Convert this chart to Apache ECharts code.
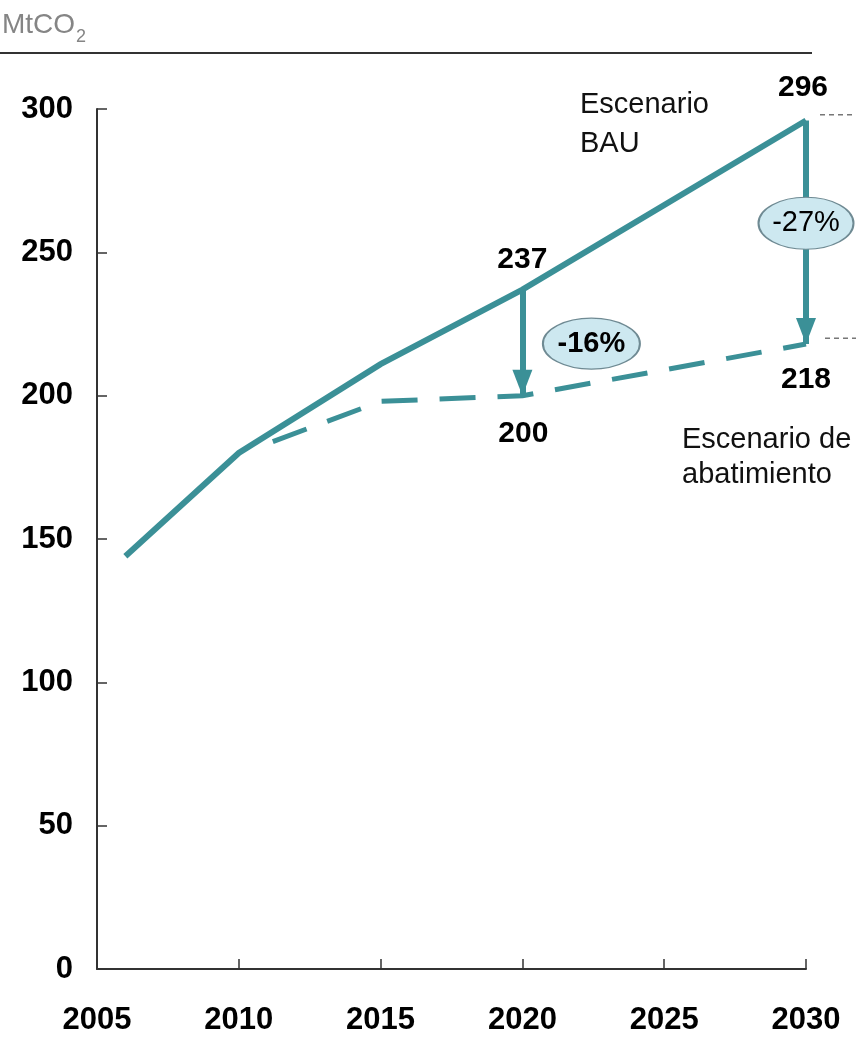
<!DOCTYPE html>
<html><head><meta charset="utf-8">
<script src="https://cdn.jsdelivr.net/npm/echarts@6/dist/echarts.min.js"></script>
<style>html,body{margin:0;padding:0;background:#fff}#c{width:856px;height:1038px}</style>
</head><body><div id="c"></div>
<script>
// ---- data ----
const xTicks = [2005, 2010, 2015, 2020, 2025, 2030];
const yTicks = [0, 50, 100, 150, 200, 250, 300];
const bauYears = [2006, 2010, 2015, 2020, 2030];
const bauValues = [144, 180, 211, 237, 296];
const abatYears = [2011.2, 2015, 2020, 2030];
const abatValues = [184, 198, 200, 218];
const reductionYears = [2020, 2030];
const reductionFrom = [237, 296];
const reductionTo = [200, 218];
const reductionLabels = ['-16%', '-27%'];
const guideLevels = [298, 220];
const scenarioNames = ['Escenario\nBAU', 'Escenario de\nabatimiento'];
const unitText = ['MtCO', '2'];

// ---- style ----
const TEAL = '#3b9097';
const FONT = '"Liberation Sans Narrow", "Arial Narrow", "Liberation Sans", Arial, sans-serif';
const ARROW = 'path://M10,0 L20,26 L0,26 Z';

const chart = echarts.init(document.getElementById('c'), null, {renderer: 'canvas'});
const pair = (xs, ys) => xs.map((x, i) => [x, ys[i]]);
const hidden = {color: 'rgba(0,0,0,0)'};
const numLabel = (txt, off) => ({show: true, formatter: txt, offset: off, fontFamily: FONT, fontWeight: 'bold', fontSize: 30, color: '#000'});

const baseGraphic = [
  {type: 'line', shape: {x1: 0, y1: 53, x2: 812, y2: 53}, style: {stroke: '#333', lineWidth: 2}},
  {type: 'text', left: 2, top: 11, style: {text: unitText[0], fontFamily: FONT, fontSize: 28, fill: '#858585'}},
  {type: 'text', left: 76, top: 28, style: {text: unitText[1], fontFamily: FONT, fontSize: 18, fill: '#858585'}}
];

const option = {
  animation: false,
  backgroundColor: '#fff',
  grid: {left: 97, right: 50, top: 109, bottom: 69, containLabel: false},
  xAxis: {
    type: 'value', min: xTicks[0], max: xTicks[xTicks.length - 1], interval: 5,
    axisLine: {show: true, lineStyle: {color: '#333', width: 2}},
    axisTick: {show: true, inside: true, length: 10, lineStyle: {color: '#333', width: 1.5}},
    splitLine: {show: false},
    axisLabel: {fontFamily: FONT, fontWeight: 'bold', fontSize: 31, color: '#000', margin: 36,
      formatter: v => String(v)}
  },
  yAxis: {
    type: 'value', min: yTicks[0], max: yTicks[yTicks.length - 1], interval: 50,
    axisLine: {show: true, lineStyle: {color: '#333', width: 2}},
    axisTick: {show: true, inside: true, length: 10, lineStyle: {color: '#333', width: 1.5}},
    splitLine: {show: false},
    axisLabel: {fontFamily: FONT, fontWeight: 'bold', fontSize: 31, color: '#000', margin: 24}
  },
  graphic: baseGraphic,
  series: [
    {
      name: 'BAU', type: 'line', data: pair(bauYears, bauValues), symbol: 'none', clip: false, z: 3,
      lineStyle: {color: TEAL, width: 6, cap: 'butt', join: 'miter'},
      markLine: {
        silent: true, z: 4, animation: false,
        lineStyle: {color: TEAL, width: 6, type: 'solid'},
        label: {show: false},
        data: reductionYears.map((yr, i) => [
          {coord: [yr, reductionFrom[i]], symbol: 'none'},
          {coord: [yr, reductionTo[i]], symbol: ARROW, symbolSize: [20, 26], symbolOffset: [0, 13],
            itemStyle: {color: TEAL}}
        ])
      },
      markPoint: {
        silent: true, z: 6, animation: false,
        data: [
          {coord: [reductionYears[0], reductionFrom[0]], symbol: 'circle', symbolSize: 1, itemStyle: hidden,
            label: numLabel(String(reductionFrom[0]), [0, -30])},
          {coord: [reductionYears[1], reductionFrom[1]], symbol: 'circle', symbolSize: 1, itemStyle: hidden,
            label: numLabel(String(reductionFrom[1]), [-3, -33])},
          {coord: [bauYears[bauYears.length - 1], bauValues[bauValues.length - 1]], symbol: 'circle', symbolSize: 1,
            itemStyle: hidden,
            label: {show: true, formatter: scenarioNames[0], align: 'left', verticalAlign: 'middle', offset: [-226, 4],
              fontFamily: FONT, fontSize: 29, lineHeight: 39, color: '#111'}},
          {coord: [abatYears[abatYears.length - 1], abatValues[abatValues.length - 1]], symbol: 'circle', symbolSize: 1,
            itemStyle: hidden,
            label: {show: true, formatter: scenarioNames[1], align: 'left', verticalAlign: 'middle', offset: [-124, 113],
              fontFamily: FONT, fontSize: 29, lineHeight: 35, color: '#111'}}
        ]
      }
    },
    {
      name: 'Abatimiento', type: 'line', data: pair(abatYears, abatValues), symbol: 'none', clip: false, z: 3,
      lineStyle: {color: TEAL, width: 5, type: [36, 22], cap: 'butt'},
      markPoint: {
        silent: true, z: 6, animation: false,
        data: [
          {coord: [reductionYears[0], reductionTo[0]], symbol: 'circle', symbolSize: 1, itemStyle: hidden,
            label: numLabel(String(reductionTo[0]), [1, 38])},
          {coord: [reductionYears[1], reductionTo[1]], symbol: 'circle', symbolSize: 1, itemStyle: hidden,
            label: numLabel(String(reductionTo[1]), [0, 36])},
          {coord: [reductionYears[0], (reductionFrom[0] + reductionTo[0]) / 2], symbol: 'circle', symbolSize: [97, 51],
            symbolOffset: [69, 1],
            itemStyle: {color: '#cde8f0', borderColor: '#6f8a93', borderWidth: 1.5},
            label: {show: true, position: 'inside', formatter: reductionLabels[0], fontFamily: FONT, fontWeight: 'bold', fontSize: 29, color: '#000'}},
          {coord: [reductionYears[1], (reductionFrom[1] + reductionTo[1]) / 2], symbol: 'circle', symbolSize: [95, 52],
            symbolOffset: [0, -9],
            itemStyle: {color: '#cde8f0', borderColor: '#6f8a93', borderWidth: 1.5},
            label: {show: true, position: 'inside', formatter: reductionLabels[1], fontFamily: FONT, fontSize: 29, color: '#000'}}
        ]
      }
    }
  ]
};
chart.setOption(option);

// dashed gray guides to the right of the 2030 end points, placed through the chart's own scale
const guides = guideLevels.map((lv, i) => {
  const p = chart.convertToPixel({gridIndex: 0}, [xTicks[xTicks.length - 1], lv]);
  return {type: 'line', shape: {x1: p[0] + 14 + i * 5, y1: p[1], x2: 856, y2: p[1]},
    style: {stroke: '#777', lineWidth: 1.5, lineDash: [5, 4]}};
});
chart.setOption({graphic: baseGraphic.concat(guides)});
</script></body></html>
